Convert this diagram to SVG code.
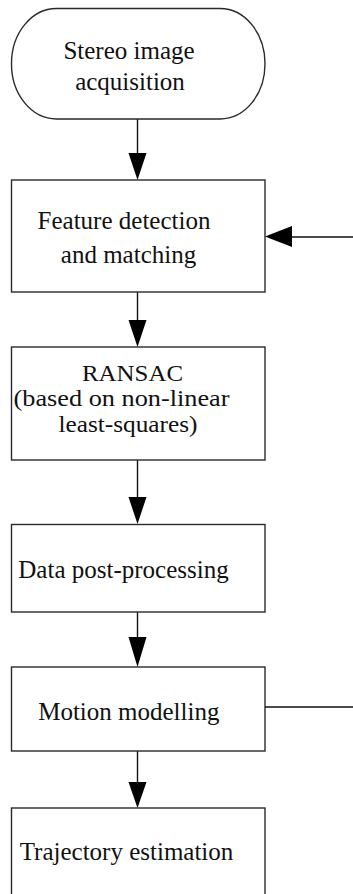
<svg xmlns="http://www.w3.org/2000/svg" width="353" height="894" viewBox="0 0 353 894">
<defs>
<style>
.n{fill:#fff;stroke:#2a2a2a;stroke-width:1.4}
.t{font-family:"Liberation Serif","Times New Roman",serif;font-size:25px;fill:#111;text-anchor:middle}
.s{font-size:23px}
.c{stroke:#111;stroke-width:1.4;fill:none}
.h{fill:#000;stroke:none}
</style>
</defs>
<rect width="353" height="894" fill="#fff"/>
<g id="connectors">
<line class="c" x1="137.5" y1="119" x2="137.5" y2="156"/>
<polygon class="h" points="128.5,153 146.5,153 137.5,180"/>
<line class="c" x1="137.5" y1="292" x2="137.5" y2="323"/>
<polygon class="h" points="128.5,320 146.5,320 137.5,347"/>
<line class="c" x1="137.5" y1="460" x2="137.5" y2="500"/>
<polygon class="h" points="128.5,497 146.5,497 137.5,524"/>
<line class="c" x1="137.5" y1="612" x2="137.5" y2="640"/>
<polygon class="h" points="128.5,637 146.5,637 137.5,667"/>
<line class="c" x1="137.5" y1="751" x2="137.5" y2="785"/>
<polygon class="h" points="128.5,782 146.5,782 137.5,808"/>
<line class="c" x1="353" y1="237" x2="289" y2="237"/>
<polygon class="h" points="292,226 292,247 265,236.5"/>
<line class="c" x1="265" y1="707" x2="353" y2="707"/>
</g>
<g id="start">
<rect class="n" x="11.5" y="8.5" width="253.5" height="110.5" rx="45" ry="55"/>
<text class="t" x="129" y="59">Stereo image</text>
<text class="t" x="130" y="90">acquisition</text>
</g>
<g id="feature">
<rect class="n" x="11.5" y="180" width="253.5" height="112"/>
<text class="t" x="124" y="229">Feature detection</text>
<text class="t" x="128.5" y="263">and matching</text>
</g>
<g id="ransac">
<rect class="n" x="11.5" y="347" width="253.5" height="113"/>
<text class="t s" x="132.5" y="380.5" textLength="101" lengthAdjust="spacingAndGlyphs">RANSAC</text>
<text class="t s" x="121.5" y="406" textLength="216" lengthAdjust="spacingAndGlyphs">(based on non-linear</text>
<text class="t s" x="128" y="431.5" textLength="139" lengthAdjust="spacingAndGlyphs">least-squares)</text>
</g>
<g id="postproc">
<rect class="n" x="11.5" y="524.5" width="253.5" height="87.5"/>
<text class="t" x="123.5" y="578">Data post-processing</text>
</g>
<g id="motion">
<rect class="n" x="11.5" y="667" width="253.5" height="84"/>
<text class="t" x="128.8" y="720">Motion modelling</text>
</g>
<g id="trajectory">
<rect class="n" x="11.5" y="808" width="253.5" height="100"/>
<text class="t" x="126.5" y="860">Trajectory estimation</text>
</g>
</svg>
